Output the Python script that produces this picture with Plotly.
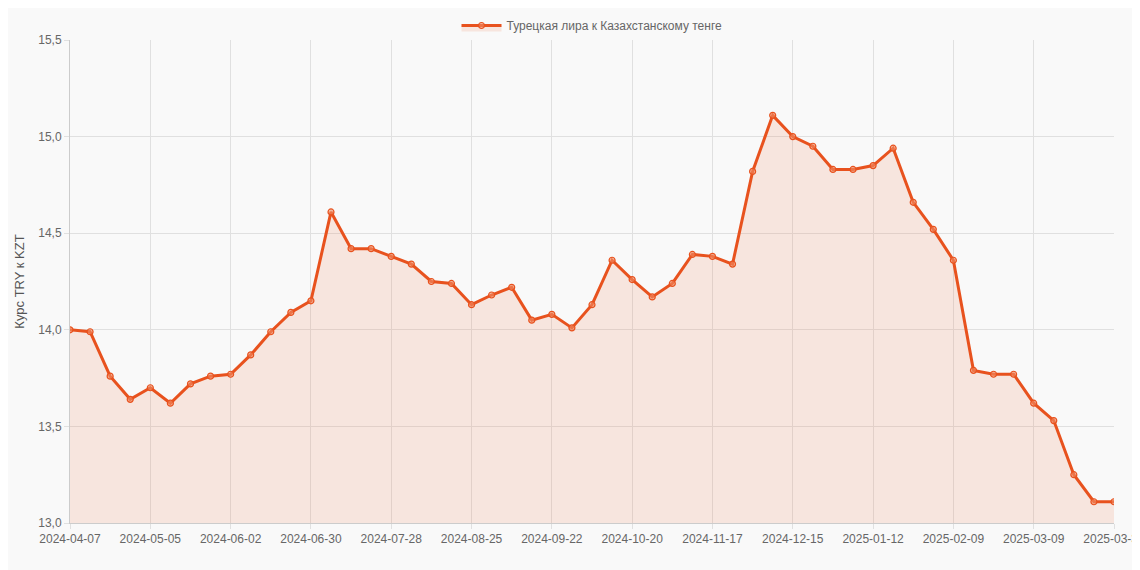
import datetime as dt
import plotly.graph_objects as go

start = dt.date(2024, 4, 7)
dates = [(start + dt.timedelta(weeks=i)).isoformat() for i in range(52)] + ["2025-03-31"]
values = [14.00, 13.99, 13.76, 13.64, 13.70, 13.62, 13.72, 13.76, 13.77, 13.87,
          13.99, 14.09, 14.15, 14.61, 14.42, 14.42, 14.38, 14.34, 14.25, 14.24,
          14.13, 14.18, 14.22, 14.05, 14.08, 14.01, 14.13, 14.36, 14.26, 14.17,
          14.24, 14.39, 14.38, 14.34, 14.82, 15.11, 15.00, 14.95, 14.83, 14.83,
          14.85, 14.94, 14.66, 14.52, 14.36, 13.79, 13.77, 13.77, 13.62, 13.53,
          13.25, 13.11, 13.11]
tickvals = dates[0:52:4] + [dates[-1]]

line_color = "#e8521e"
fig = go.Figure(go.Scatter(
    x=dates, y=values, mode="lines+markers",
    name="Турецкая лира к Казахстанскому тенге",
    line=dict(color=line_color, width=3),
    marker=dict(size=6, color="rgba(240,140,100,0.6)", line=dict(color=line_color, width=1.2)),
    fill="tozeroy", fillcolor="rgba(240,130,90,0.17)",
))
fig.update_layout(
    width=1140, height=570,
    paper_bgcolor="#f9f9f9", plot_bgcolor="#f9f9f9",
    margin=dict(l=62, r=34, t=32, b=55, autoexpand=False),
    font=dict(family="Liberation Sans, Arial, sans-serif", color="#666", size=12),
    showlegend=True,
    legend=dict(orientation="h", x=0.5, xanchor="center", y=1.0, yanchor="bottom",
                font=dict(size=12, color="#666"), itemwidth=40),
    separators=", ",
)
fig.update_xaxes(type="category", tickmode="array", tickvals=tickvals, ticktext=tickvals,
                 tickangle=0, showgrid=True, gridcolor="#e0e0e0", showline=True,
                 linecolor="#ccc", ticks="outside", ticklen=5, tickcolor="#e0e0e0",
                 range=[0, 52], automargin=False)
fig.update_yaxes(range=[13.0, 15.5], dtick=0.5, tickformat=".1f",
                 showgrid=True, gridcolor="#e0e0e0", showline=True, linecolor="#ccc",
                 zeroline=False, automargin=False,
                 title=dict(text="Курс TRY к KZT", font=dict(size=13, color="#555"), standoff=10),
                 ticks="outside", ticklen=5, tickcolor="#e0e0e0")
fig.write_html("out.html")
